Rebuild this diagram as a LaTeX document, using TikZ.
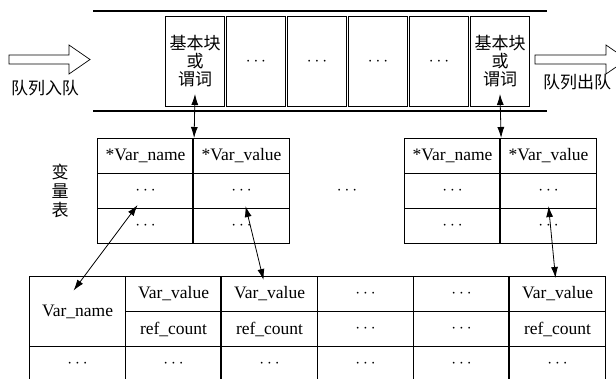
\documentclass[tikz,border=0pt]{standalone}
\usepackage{fontspec}
\setmainfont{Liberation Serif}
\newfontfamily\cjk{Noto Sans CJK SC}
\usetikzlibrary{arrows.meta}
\begin{document}
\begin{tikzpicture}[x=1pt,y=-1pt,
  lat/.style={font=\fontsize{17}{20}\selectfont},
  cjkf/.style={font=\cjk\fontsize{17}{18}\selectfont},
  qbox/.style={draw,line width=1pt,minimum width=59pt,minimum height=90pt,inner sep=0pt,anchor=north west,align=center,cjkf},
  cell/.style={draw,line width=1.1pt,minimum width=96pt,minimum height=35pt,inner sep=0pt,anchor=north west,font=\fontsize{17.5}{20}\selectfont},
  dd/.style={line width=0.8pt,{Latex[length=11pt,width=7pt]}-{Latex[length=11pt,width=7pt]}},
  hollow/.style={draw,line width=0.7pt,fill=white},
  rail/.style={line width=2.6pt}]
\clip (0,0) rectangle (616,378);
\fill[white] (0,0) rectangle (616,378);
% queue rails
\coordinate (r1a) at (93,11); \coordinate (r1b) at (547,11);
\coordinate (r2a) at (93,111); \coordinate (r2b) at (547,111);
\draw[rail] (r1a) -- (r1b);
\draw[rail] (r2a) -- (r2b);
% queue boxes
\node[qbox] (q1) at (165,16) {基本块\\或\\谓词};
\node[qbox] (q2) at (226,16) {\fontsize{17}{20}\selectfont$\cdots$};
\node[qbox] (q3) at (287,16) {\fontsize{17}{20}\selectfont$\cdots$};
\node[qbox] (q4) at (348,16) {\fontsize{17}{20}\selectfont$\cdots$};
\node[qbox] (q5) at (409,16) {\fontsize{17}{20}\selectfont$\cdots$};
\node[qbox] (q6) at (470,16) {基本块\\或\\谓词};
% hollow arrows
\draw[hollow] (9,55) -- (69,55) -- (69,45) -- (90,59.5) -- (69,74) -- (69,64) -- (9,64) -- cycle;
\draw[hollow] (535,55) -- (606,55) -- (606,45) -- (627,59.5) -- (606,74) -- (606,64) -- (535,64) -- cycle;
\node[cjkf,anchor=center] (lin) at (45,88) {队列入队};
\node[cjkf,anchor=center] (lout) at (577,82) {队列出队};
% variable tables
\node[cell] (v1h1) at (97,138) {*Var\_name};
\node[cell] (v1h2) at (193,138) {*Var\_value};
\node[cell] (v1n2) at (97,173) {$\cdots$};
\node[cell] (v1v2) at (193,173) {$\cdots$};
\node[cell] (v1n3) at (97,208) {$\cdots$};
\node[cell] (v1v3) at (193,208) {$\cdots$};
\node[cell] (v2h1) at (404,138) {*Var\_name};
\node[cell] (v2h2) at (500,138) {*Var\_value};
\node[cell] (v2n2) at (404,173) {$\cdots$};
\node[cell] (v2v2) at (500,173) {$\cdots$};
\node[cell] (v2n3) at (404,208) {$\cdots$};
\node[cell] (v2v3) at (500,208) {$\cdots$};
\node[lat] (mid) at (347,191) {$\cdots$};
\node[cjkf,align=center,inner sep=0pt,font=\cjk\fontsize{17}{19}\selectfont] (vlab) at (60,191) {变\\量\\表};
% bottom table
\node[cell,minimum height=70pt] (bn) at (29,276) {Var\_name};
\node[cell] (b21) at (125,276) {Var\_value};
\node[cell] (b22) at (125,311) {ref\_count};
\node[cell] (b31) at (221,276) {Var\_value};
\node[cell] (b32) at (221,311) {ref\_count};
\node[cell] (b41) at (317,276) {$\cdots$};
\node[cell] (b42) at (317,311) {$\cdots$};
\node[cell] (b51) at (413,276) {$\cdots$};
\node[cell] (b52) at (413,311) {$\cdots$};
\node[cell] (b61) at (509,276) {Var\_value};
\node[cell] (b62) at (509,311) {ref\_count};
\node[cell] (b13) at (29,346) {$\cdots$};
\node[cell] (b23) at (125,346) {$\cdots$};
\node[cell] (b33) at (221,346) {$\cdots$};
\node[cell] (b43) at (317,346) {$\cdots$};
\node[cell] (b53) at (413,346) {$\cdots$};
\node[cell] (b63) at (509,346) {$\cdots$};
\draw[line width=1.7pt] (b31.north west) -- (b33.south west);
\draw[line width=1.7pt] (b61.north west) -- (b63.south west);
\draw[line width=1.6pt] (v1h2.north west) -- (v1v3.south west);
\draw[line width=1.6pt] (v2h2.north west) -- (v2v3.south west);
% connectors
\coordinate (e1) at ([shift={(0,-13)}]q1.south);
\coordinate (e2) at ([shift={(0,-13)}]q6.south);
\draw[dd] (e1) -- (v1h1.north east);
\draw[dd] (e2) -- (v2h1.north east);
\coordinate (p1) at ([shift={(-8,14)}]v1n2.center);
\coordinate (p2) at ([shift={(-4,-21)}]bn.center);
\draw[dd] (p1) -- (p2);
\coordinate (p3) at ([shift={(4,15)}]v1v2.center);
\coordinate (p4) at ([shift={(-6,4)}]b31.north);
\draw[dd] (p3) -- (p4);
\coordinate (p5) at ([shift={(0,15)}]v2v2.center);
\coordinate (p6) at ([shift={(-2,2)}]b61.north);
\draw[dd] (p5) -- (p6);
\end{tikzpicture}
\end{document}
